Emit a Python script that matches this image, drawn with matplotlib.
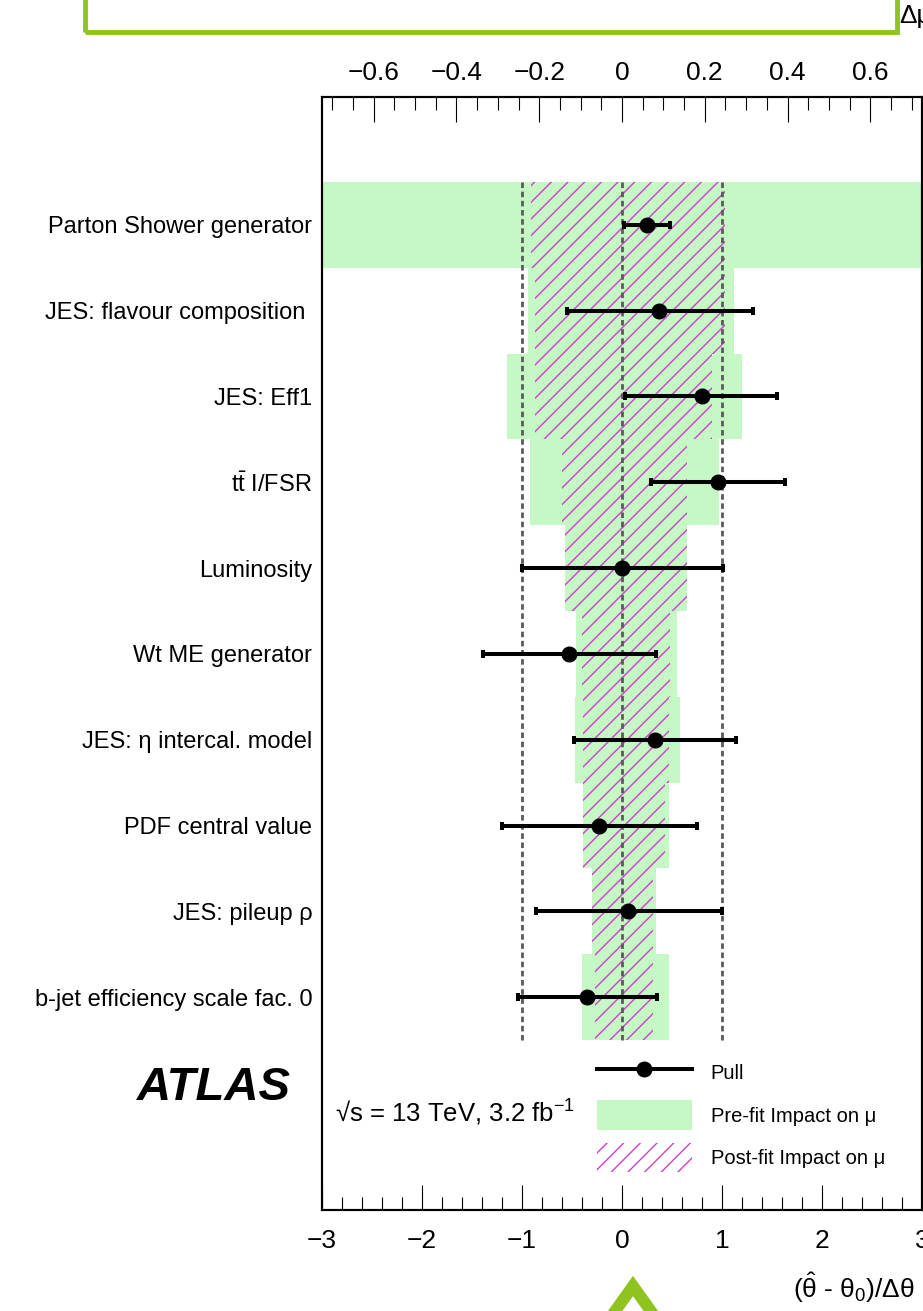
import numpy as np
import matplotlib
matplotlib.use('Agg')
import matplotlib.pyplot as plt
from matplotlib.lines import Line2D
from matplotlib.patches import Patch, Rectangle
from matplotlib.ticker import MultipleLocator

plt.rcParams['font.family'] = ['Liberation Sans', 'DejaVu Sans']
plt.rcParams['mathtext.fontset'] = 'custom'
plt.rcParams['mathtext.rm'] = 'Liberation Sans'
plt.rcParams['mathtext.it'] = 'Liberation Sans:italic'
plt.rcParams['mathtext.bf'] = 'Liberation Sans:bold'
plt.rcParams['hatch.linewidth'] = 1.0

# nuisance parameters, ranked from top to bottom
labels = ['Parton Shower generator', 'JES: flavour composition ', 'JES: Eff1',
          r'$\mathrm{t\bar{t}}$ I/FSR', 'Luminosity', 'Wt ME generator',
          'JES: η intercal. model', 'PDF central value', 'JES: pileup ρ',
          'b-jet efficiency scale fac. 0']
# pulls (theta_hat - theta0)/dtheta and their errors
pull = [0.25, 0.37, 0.80, 0.96, 0.00, -0.53, 0.33, -0.23, 0.06, -0.35]
pull_lo = [0.23, 0.92, 0.77, 0.67, 1.00, 0.86, 0.81, 0.97, 0.92, 0.69]
pull_hi = [0.23, 0.94, 0.75, 0.67, 1.01, 0.87, 0.81, 0.98, 0.94, 0.70]
# impact on mu (delta mu)
pre_lo = [-0.80, -0.227, -0.278, -0.222, -0.138, -0.111, -0.114, -0.094, -0.073, -0.097]
pre_hi = [0.80, 0.271, 0.290, 0.235, 0.157, 0.133, 0.140, 0.114, 0.082, 0.114]
post_lo = [-0.220, -0.210, -0.210, -0.145, -0.138, -0.097, -0.094, -0.094, -0.073, -0.065]
post_hi = [0.249, 0.249, 0.218, 0.157, 0.157, 0.116, 0.114, 0.104, 0.075, 0.075]

GREEN = '#c6f8c6'
MAGENTA = '#cc3fcc'
LIME = '#8fc31f'

W, H = 923, 1311
fig = plt.figure(figsize=(W/100, H/100), dpi=100)
ax = fig.add_axes([322/W, 1-1210/H, 600/W, (1210-97)/H])
axm = ax.twiny()
ax.set_zorder(2); axm.set_zorder(1)
ax.patch.set_visible(False)

y = np.arange(len(labels))
pre_lo, pre_hi = np.array(pre_lo), np.array(pre_hi)
post_lo, post_hi = np.array(post_lo), np.array(post_hi)

axm.barh(y, pre_hi-pre_lo, left=pre_lo, height=1.0, color=GREEN, lw=0)
axm.barh(y, post_hi-post_lo, left=post_lo, height=1.0, fill=False, hatch='//',
         edgecolor=MAGENTA, lw=0)
axm.set_xlim(-0.725, 0.725)

ax.vlines([-1, 0, 1], -0.5, len(labels)-0.5, colors='#5a5a5a',
          linestyles=(0, (2.0, 1.3)), lw=2.0, zorder=3)
ax.errorbar(pull, y, xerr=[pull_lo, pull_hi], fmt='o', color='k', ms=10.5,
            lw=2.9, capsize=3, capthick=2.9, zorder=5)

ax.set_xlim(-3, 3)
ax.set_ylim(11.48, -1.49)
axm.set_ylim(11.48, -1.49)

ax.set_yticks(y)
ax.set_yticklabels(labels, fontsize=17)
ax.tick_params(axis='y', length=0, pad=7)
axm.tick_params(axis='y', length=0, labelleft=False)

ax.xaxis.set_major_locator(MultipleLocator(1))
ax.xaxis.set_minor_locator(MultipleLocator(0.2))
ax.tick_params(axis='x', which='both', direction='in', top=False, bottom=True,
               labelsize=19, pad=14, width=0.8)
ax.tick_params(axis='x', which='major', length=18)
ax.tick_params(axis='x', which='minor', length=9.5)

axm.xaxis.set_major_locator(MultipleLocator(0.2))
axm.xaxis.set_minor_locator(MultipleLocator(0.05))
axm.tick_params(axis='x', which='both', direction='in', top=True, bottom=False,
                labelsize=19, pad=8.5, width=0.8)
axm.tick_params(axis='x', which='major', length=18)
axm.tick_params(axis='x', which='minor', length=9.5)
axm.set_xticks([-0.6, -0.4, -0.2, 0, 0.2, 0.4, 0.6])
axm.set_xticklabels(['−0.6', '−0.4', '−0.2', '0', '0.2', '0.4', '0.6'])

for a in (ax, axm):
    for s in a.spines.values():
        s.set_linewidth(1.5)

handles = [Line2D([], [], color='k', lw=2.9, marker='o', ms=10.5),
           Patch(facecolor=GREEN, lw=0),
           Patch(fill=False, hatch='//', edgecolor=MAGENTA, lw=0)]
leg = ax.legend(handles, ['Pull', 'Pre-fit Impact on μ', 'Post-fit Impact on μ'],
                loc='upper left', bbox_to_anchor=(597/W, 1-1058/H),
                bbox_transform=fig.transFigure, frameon=False, fontsize=14.5,
                handlelength=4.7, handleheight=1.9, handletextpad=0.95,
                labelspacing=0.62, borderpad=0, borderaxespad=0)

fig.text(137/W, 1-1100/H, 'ATLAS', fontsize=34, weight='bold', style='italic',
         va='baseline')
fig.text(335/W, 1-1122/H, '√s = 13 TeV, 3.2 fb$^{-1}$', fontsize=18.5, va='baseline')
fig.text(793/W, 1-1298/H, r'$\mathrm{(\hat{θ}}$ - $\mathrm{θ_{0})/Δθ}$', fontsize=19,
         va='baseline')
fig.text(899/W, 1-23/H, 'Δμ', fontsize=19, va='baseline')

# annotation marks
fig.add_artist(Rectangle((85/W, 1-32/H), (897-85)/W, 60/H, transform=fig.transFigure,
                         fill=False, edgecolor=LIME, lw=3.5))
fig.add_artist(Line2D([608/W, 633/W, 658/W], [1-1321/H, 1-1286/H, 1-1321/H],
                      transform=fig.transFigure, color=LIME, lw=8.5,
                      solid_joinstyle='miter'))

fig.savefig('out.png', dpi=100)
